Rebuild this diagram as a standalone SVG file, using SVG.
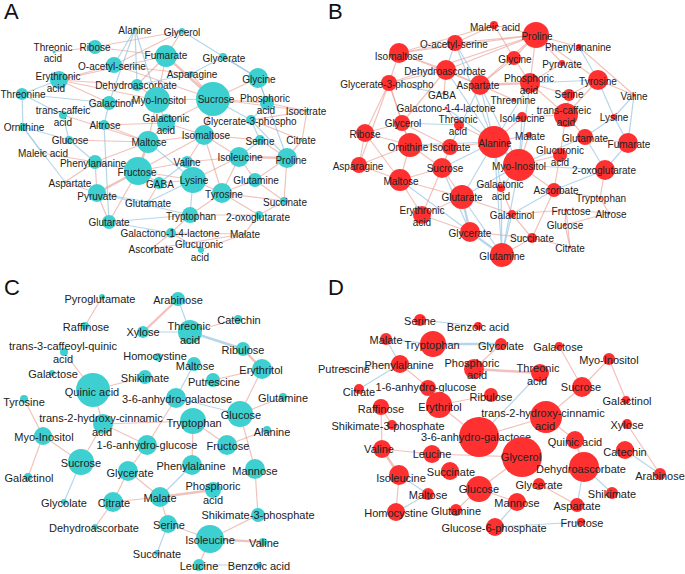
<svg xmlns="http://www.w3.org/2000/svg" width="685" height="574" viewBox="0 0 685 574">
<style>
text{font-family:"Liberation Sans",Arial,sans-serif;fill:#222;text-anchor:middle}
.t10{font-size:10px}
.t11{font-size:11px}
.pl{font-size:22px;text-anchor:start;fill:#111}
.r{stroke:#E8998F;stroke-opacity:.6;stroke-width:1.2;fill:none}
.b{stroke:#97C4E0;stroke-opacity:.7;stroke-width:1.2;fill:none}
.w2{stroke-width:2.4}
.nA{fill:#3ED0D0}
.nB{fill:#FF3030}
</style>
<rect width="685" height="574" fill="#fff"/>
<text class="pl" x="4" y="19">A</text>
<text class="pl" x="328" y="19">B</text>
<text class="pl" x="4" y="295">C</text>
<text class="pl" x="328" y="295">D</text>
<g id="connectors">
<!-- Panel A -->
<line class="r" x1="95" y1="47" x2="54" y2="52"/>
<line class="r" x1="95" y1="47" x2="166" y2="56"/>
<line class="r" x1="95" y1="47" x2="182" y2="31"/>
<line class="r" x1="114" y1="65" x2="182" y2="31"/>
<line class="r" x1="166" y1="56" x2="182" y2="31"/>
<line class="r w2" x1="166" y1="56" x2="213" y2="99"/>
<line class="r" x1="166" y1="56" x2="137" y2="85"/>
<line class="r" x1="166" y1="56" x2="59" y2="80"/>
<line class="r" x1="166" y1="56" x2="157" y2="100"/>
<line class="r" x1="59" y1="80" x2="114" y2="65"/>
<line class="r" x1="59" y1="80" x2="137" y2="85"/>
<line class="r" x1="59" y1="80" x2="109" y2="103"/>
<line class="r" x1="59" y1="80" x2="157" y2="100"/>
<line class="r" x1="114" y1="65" x2="191" y2="74"/>
<line class="r" x1="114" y1="65" x2="213" y2="99"/>
<line class="r" x1="258" y1="78" x2="213" y2="99"/>
<line class="b" x1="258" y1="78" x2="223" y2="57"/>
<line class="b" x1="258" y1="78" x2="182" y2="31"/>
<line class="b" x1="258" y1="78" x2="267" y2="103"/>
<line class="b" x1="258" y1="78" x2="287" y2="158"/>
<line class="r" x1="213" y1="99" x2="157" y2="100"/>
<line class="r w2" x1="213" y1="99" x2="204" y2="135"/>
<line class="r" x1="213" y1="99" x2="166" y2="123"/>
<line class="b" x1="213" y1="99" x2="251" y2="120"/>
<line class="r" x1="213" y1="99" x2="267" y2="103"/>
<line class="r" x1="213" y1="99" x2="307" y2="111"/>
<line class="r" x1="157" y1="100" x2="109" y2="103"/>
<line class="r" x1="157" y1="100" x2="148" y2="142"/>
<line class="r" x1="157" y1="100" x2="166" y2="123"/>
<line class="r" x1="157" y1="100" x2="137" y2="85"/>
<line class="b" x1="137" y1="85" x2="135" y2="29"/>
<line class="b" x1="135" y1="29" x2="157" y2="100"/>
<line class="b" x1="135" y1="29" x2="114" y2="65"/>
<line class="b" x1="135" y1="29" x2="109" y2="103"/>
<line class="b" x1="191" y1="74" x2="223" y2="57"/>
<line class="r" x1="191" y1="74" x2="213" y2="99"/>
<line class="b" x1="191" y1="74" x2="137" y2="85"/>
<line class="b" x1="22" y1="94" x2="59" y2="80"/>
<line class="b" x1="22" y1="94" x2="23" y2="127"/>
<line class="b" x1="22" y1="94" x2="63" y2="115"/>
<line class="b" x1="22" y1="94" x2="109" y2="103"/>
<line class="b" x1="63" y1="115" x2="109" y2="103"/>
<line class="b" x1="63" y1="115" x2="69" y2="140"/>
<line class="r" x1="63" y1="115" x2="148" y2="142"/>
<line class="b" x1="23" y1="127" x2="42" y2="153"/>
<line class="b" x1="23" y1="127" x2="65" y2="182"/>
<line class="b" x1="23" y1="127" x2="69" y2="140"/>
<line class="b" x1="104" y1="125" x2="109" y2="103"/>
<line class="r" x1="104" y1="125" x2="148" y2="142"/>
<line class="b" x1="104" y1="125" x2="109" y2="222"/>
<line class="r" x1="104" y1="125" x2="166" y2="123"/>
<line class="r" x1="69" y1="140" x2="148" y2="142"/>
<line class="b" x1="69" y1="140" x2="95" y2="162"/>
<line class="r w2" x1="148" y1="142" x2="138" y2="171"/>
<line class="r" x1="148" y1="142" x2="166" y2="123"/>
<line class="b" x1="148" y1="142" x2="193" y2="180"/>
<line class="r" x1="148" y1="142" x2="204" y2="135"/>
<line class="r" x1="148" y1="142" x2="95" y2="162"/>
<line class="r" x1="204" y1="135" x2="187" y2="162"/>
<line class="r" x1="204" y1="135" x2="138" y2="171"/>
<line class="r" x1="204" y1="135" x2="260" y2="140"/>
<line class="r" x1="204" y1="135" x2="222" y2="193"/>
<line class="r" x1="204" y1="135" x2="239" y2="157"/>
<line class="r" x1="204" y1="135" x2="166" y2="123"/>
<line class="b" x1="251" y1="120" x2="260" y2="140"/>
<line class="r" x1="251" y1="120" x2="307" y2="111"/>
<line class="b" x1="251" y1="120" x2="287" y2="158"/>
<line class="r" x1="251" y1="120" x2="302" y2="140"/>
<line class="r" x1="267" y1="103" x2="307" y2="111"/>
<line class="b" x1="267" y1="103" x2="251" y2="120"/>
<line class="r" x1="260" y1="140" x2="287" y2="158"/>
<line class="b" x1="260" y1="140" x2="239" y2="157"/>
<line class="r w2" x1="287" y1="158" x2="239" y2="157"/>
<line class="r" x1="287" y1="158" x2="302" y2="140"/>
<line class="r" x1="287" y1="158" x2="284" y2="201"/>
<line class="r" x1="287" y1="158" x2="255" y2="180"/>
<line class="r" x1="307" y1="111" x2="302" y2="140"/>
<line class="r" x1="239" y1="157" x2="255" y2="180"/>
<line class="r" x1="239" y1="157" x2="193" y2="180"/>
<line class="r" x1="239" y1="157" x2="187" y2="162"/>
<line class="r" x1="239" y1="157" x2="222" y2="193"/>
<line class="r" x1="95" y1="162" x2="138" y2="171"/>
<line class="r" x1="95" y1="162" x2="65" y2="182"/>
<line class="r" x1="95" y1="162" x2="97" y2="193"/>
<line class="r" x1="95" y1="162" x2="42" y2="153"/>
<line class="r w2" x1="138" y1="171" x2="97" y2="193"/>
<line class="r" x1="138" y1="171" x2="159" y2="183"/>
<line class="r" x1="138" y1="171" x2="193" y2="180"/>
<line class="r" x1="138" y1="171" x2="109" y2="222"/>
<line class="r" x1="138" y1="171" x2="187" y2="162"/>
<line class="r" x1="193" y1="180" x2="222" y2="193"/>
<line class="b" x1="193" y1="180" x2="190" y2="215"/>
<line class="r" x1="193" y1="180" x2="159" y2="183"/>
<line class="r" x1="193" y1="180" x2="187" y2="162"/>
<line class="b" x1="193" y1="180" x2="148" y2="202"/>
<line class="r" x1="222" y1="193" x2="255" y2="180"/>
<line class="r" x1="222" y1="193" x2="284" y2="201"/>
<line class="r" x1="222" y1="193" x2="259" y2="215"/>
<line class="r" x1="222" y1="193" x2="190" y2="215"/>
<line class="r" x1="97" y1="193" x2="109" y2="222"/>
<line class="r" x1="97" y1="193" x2="65" y2="182"/>
<line class="b" x1="97" y1="193" x2="148" y2="202"/>
<line class="b" x1="97" y1="193" x2="190" y2="215"/>
<line class="b" x1="109" y1="222" x2="190" y2="215"/>
<line class="b" x1="109" y1="222" x2="171" y2="233"/>
<line class="r" x1="190" y1="215" x2="171" y2="233"/>
<line class="r" x1="190" y1="215" x2="259" y2="215"/>
<line class="r" x1="171" y1="233" x2="244" y2="234"/>
<line class="r" x1="171" y1="233" x2="151" y2="249"/>
<line class="r" x1="171" y1="233" x2="201" y2="250"/>
<line class="r" x1="244" y1="234" x2="259" y2="215"/>
<line class="r" x1="244" y1="234" x2="151" y2="249"/>
<line class="r" x1="244" y1="234" x2="201" y2="250"/>
<line class="r" x1="259" y1="215" x2="284" y2="201"/>
<line class="r" x1="255" y1="180" x2="284" y2="201"/>
<line class="r" x1="159" y1="183" x2="148" y2="202"/>
<line class="b" x1="187" y1="162" x2="159" y2="183"/>
<!-- Panel B -->
<line class="r" x1="536" y1="35" x2="494" y2="25"/>
<line class="r" x1="536" y1="35" x2="455" y2="43"/>
<line class="r" x1="536" y1="35" x2="399" y2="53"/>
<line class="r" x1="536" y1="35" x2="446" y2="70"/>
<line class="r" x1="536" y1="35" x2="514" y2="58"/>
<line class="r" x1="536" y1="35" x2="530" y2="83"/>
<line class="r" x1="536" y1="35" x2="598" y2="80"/>
<line class="r" x1="536" y1="35" x2="562" y2="63"/>
<line class="r" x1="536" y1="35" x2="480" y2="85"/>
<line class="r" x1="536" y1="35" x2="389" y2="83"/>
<line class="r" x1="536" y1="35" x2="579" y2="47"/>
<line class="r" x1="494" y1="25" x2="455" y2="43"/>
<line class="r" x1="494" y1="25" x2="399" y2="53"/>
<line class="r" x1="494" y1="25" x2="514" y2="58"/>
<line class="r" x1="455" y1="43" x2="399" y2="53"/>
<line class="r" x1="399" y1="53" x2="446" y2="70"/>
<line class="r" x1="399" y1="53" x2="389" y2="83"/>
<line class="r" x1="399" y1="53" x2="480" y2="85"/>
<line class="r" x1="446" y1="70" x2="480" y2="85"/>
<line class="r" x1="446" y1="70" x2="389" y2="83"/>
<line class="r" x1="514" y1="58" x2="480" y2="85"/>
<line class="r" x1="514" y1="58" x2="530" y2="83"/>
<line class="r w2" x1="480" y1="85" x2="530" y2="83"/>
<line class="r" x1="530" y1="83" x2="569" y2="95"/>
<line class="b" x1="530" y1="83" x2="598" y2="80"/>
<line class="b" x1="579" y1="47" x2="598" y2="80"/>
<line class="r" x1="579" y1="47" x2="634" y2="95"/>
<line class="r" x1="598" y1="80" x2="569" y2="95"/>
<line class="r" x1="598" y1="80" x2="634" y2="95"/>
<line class="b" x1="598" y1="80" x2="614" y2="117"/>
<line class="r" x1="598" y1="80" x2="566" y2="115"/>
<line class="r" x1="562" y1="63" x2="530" y2="83"/>
<line class="r" x1="389" y1="83" x2="365" y2="133"/>
<line class="r" x1="389" y1="83" x2="402" y2="123"/>
<line class="r" x1="389" y1="83" x2="410" y2="145"/>
<line class="r" x1="389" y1="83" x2="359" y2="165"/>
<line class="b" x1="389" y1="83" x2="444" y2="94"/>
<line class="b" x1="455" y1="43" x2="446" y2="70"/>
<line class="b" x1="455" y1="43" x2="480" y2="85"/>
<line class="b" x1="455" y1="43" x2="494" y2="142"/>
<line class="b" x1="446" y1="70" x2="494" y2="142"/>
<line class="r" x1="446" y1="70" x2="402" y2="123"/>
<line class="r" x1="446" y1="70" x2="444" y2="94"/>
<line class="b" x1="480" y1="85" x2="494" y2="142"/>
<line class="b" x1="480" y1="85" x2="450" y2="147"/>
<line class="r" x1="480" y1="85" x2="514" y2="100"/>
<line class="b" x1="480" y1="85" x2="519" y2="165"/>
<line class="b" x1="530" y1="83" x2="519" y2="165"/>
<line class="r" x1="530" y1="83" x2="566" y2="115"/>
<line class="b" x1="530" y1="83" x2="494" y2="142"/>
<line class="r" x1="569" y1="95" x2="566" y2="115"/>
<line class="b" x1="634" y1="95" x2="628" y2="143"/>
<line class="b" x1="634" y1="95" x2="614" y2="117"/>
<line class="b" x1="614" y1="117" x2="628" y2="143"/>
<line class="b" x1="614" y1="117" x2="585" y2="137"/>
<line class="r" x1="365" y1="133" x2="402" y2="123"/>
<line class="r" x1="365" y1="133" x2="359" y2="165"/>
<line class="r" x1="365" y1="133" x2="410" y2="145"/>
<line class="r" x1="365" y1="133" x2="400" y2="180"/>
<line class="r" x1="402" y1="123" x2="410" y2="145"/>
<line class="r" x1="402" y1="123" x2="450" y2="147"/>
<line class="b" x1="402" y1="123" x2="459" y2="125"/>
<line class="r" x1="446" y1="108" x2="459" y2="125"/>
<line class="b" x1="446" y1="108" x2="494" y2="142"/>
<line class="r" x1="410" y1="145" x2="450" y2="147"/>
<line class="r" x1="410" y1="145" x2="400" y2="180"/>
<line class="r" x1="410" y1="145" x2="442" y2="168"/>
<line class="b" x1="410" y1="145" x2="494" y2="142"/>
<line class="r" x1="410" y1="145" x2="359" y2="165"/>
<line class="r" x1="450" y1="147" x2="494" y2="142"/>
<line class="r" x1="450" y1="147" x2="442" y2="168"/>
<line class="r" x1="459" y1="125" x2="494" y2="142"/>
<line class="b w2" x1="494" y1="142" x2="519" y2="165"/>
<line class="r" x1="494" y1="142" x2="522" y2="117"/>
<line class="r" x1="494" y1="142" x2="529" y2="135"/>
<line class="b" x1="494" y1="142" x2="462" y2="197"/>
<line class="b" x1="494" y1="142" x2="442" y2="168"/>
<line class="b" x1="494" y1="142" x2="501" y2="188"/>
<line class="b" x1="494" y1="142" x2="502" y2="255"/>
<line class="r" x1="522" y1="117" x2="566" y2="115"/>
<line class="b" x1="522" y1="117" x2="519" y2="165"/>
<line class="r" x1="529" y1="135" x2="519" y2="165"/>
<line class="b" x1="519" y1="165" x2="585" y2="137"/>
<line class="r" x1="519" y1="165" x2="560" y2="155"/>
<line class="b" x1="519" y1="165" x2="501" y2="188"/>
<line class="b" x1="519" y1="165" x2="502" y2="255"/>
<line class="r" x1="519" y1="165" x2="554" y2="190"/>
<line class="b" x1="519" y1="165" x2="462" y2="197"/>
<line class="b" x1="519" y1="165" x2="605" y2="170"/>
<line class="r" x1="566" y1="115" x2="585" y2="137"/>
<line class="r" x1="566" y1="115" x2="560" y2="155"/>
<line class="r" x1="585" y1="137" x2="628" y2="143"/>
<line class="b" x1="585" y1="137" x2="605" y2="170"/>
<line class="b" x1="628" y1="143" x2="605" y2="170"/>
<line class="r" x1="605" y1="170" x2="600" y2="198"/>
<line class="r" x1="554" y1="190" x2="600" y2="198"/>
<line class="b" x1="554" y1="190" x2="605" y2="170"/>
<line class="r" x1="560" y1="155" x2="554" y2="190"/>
<line class="r" x1="400" y1="180" x2="359" y2="165"/>
<line class="r" x1="400" y1="180" x2="462" y2="197"/>
<line class="r" x1="400" y1="180" x2="422" y2="215"/>
<line class="b" x1="400" y1="180" x2="470" y2="232"/>
<line class="r" x1="400" y1="180" x2="442" y2="168"/>
<line class="r" x1="442" y1="168" x2="462" y2="197"/>
<line class="b" x1="442" y1="168" x2="470" y2="232"/>
<line class="r" x1="442" y1="168" x2="422" y2="215"/>
<line class="b w2" x1="462" y1="197" x2="470" y2="232"/>
<line class="b" x1="462" y1="197" x2="502" y2="255"/>
<line class="r" x1="462" y1="197" x2="422" y2="215"/>
<line class="r" x1="462" y1="197" x2="512" y2="214"/>
<line class="r" x1="422" y1="215" x2="470" y2="232"/>
<line class="b w2" x1="470" y1="232" x2="502" y2="255"/>
<line class="r" x1="470" y1="232" x2="532" y2="238"/>
<line class="r" x1="502" y1="255" x2="532" y2="238"/>
<line class="b" x1="502" y1="255" x2="512" y2="214"/>
<line class="b" x1="502" y1="255" x2="501" y2="188"/>
<line class="r" x1="512" y1="214" x2="532" y2="238"/>
<line class="r" x1="512" y1="214" x2="566" y2="210"/>
<line class="b" x1="512" y1="214" x2="554" y2="190"/>
<line class="r" x1="501" y1="188" x2="512" y2="214"/>
<line class="r" x1="566" y1="210" x2="609" y2="213"/>
<line class="r" x1="565" y1="225" x2="609" y2="213"/>
<line class="r" x1="570" y1="247" x2="565" y2="225"/>
<line class="r" x1="570" y1="247" x2="532" y2="238"/>
<line class="r" x1="570" y1="247" x2="566" y2="210"/>
<line class="r" x1="532" y1="238" x2="554" y2="190"/>
<line class="r" x1="565" y1="225" x2="566" y2="210"/>
<line class="r" x1="600" y1="198" x2="609" y2="213"/>
<!-- Panel C -->
<line class="r" x1="102" y1="297" x2="85" y2="326"/>
<line class="r w2" x1="178" y1="299" x2="143" y2="332"/>
<line class="b" x1="178" y1="299" x2="190" y2="332"/>
<line class="b" x1="143" y1="332" x2="190" y2="332"/>
<line class="r" x1="190" y1="332" x2="238" y2="319"/>
<line class="b w2" x1="190" y1="332" x2="243" y2="349"/>
<line class="r w2" x1="243" y1="349" x2="262" y2="369"/>
<line class="r" x1="262" y1="369" x2="213" y2="380"/>
<line class="r" x1="262" y1="369" x2="240" y2="414"/>
<line class="b" x1="194" y1="364" x2="176" y2="398"/>
<line class="r" x1="64" y1="352" x2="93" y2="390"/>
<line class="r" x1="93" y1="390" x2="145" y2="377"/>
<line class="r" x1="93" y1="390" x2="103" y2="424"/>
<line class="r" x1="24" y1="399" x2="43" y2="436"/>
<line class="r" x1="43" y1="436" x2="81" y2="462"/>
<line class="r" x1="43" y1="436" x2="28" y2="477"/>
<line class="r" x1="103" y1="424" x2="81" y2="462"/>
<line class="r" x1="103" y1="424" x2="193" y2="421"/>
<line class="r" x1="103" y1="424" x2="147" y2="445"/>
<line class="b" x1="81" y1="462" x2="64" y2="502"/>
<line class="b" x1="176" y1="398" x2="240" y2="414"/>
<line class="r" x1="176" y1="398" x2="147" y2="445"/>
<line class="r" x1="240" y1="414" x2="283" y2="397"/>
<line class="r" x1="240" y1="414" x2="255" y2="469"/>
<line class="r" x1="193" y1="421" x2="227" y2="445"/>
<line class="r" x1="193" y1="421" x2="192" y2="465"/>
<line class="r" x1="227" y1="445" x2="267" y2="430"/>
<line class="b" x1="192" y1="465" x2="160" y2="497"/>
<line class="r" x1="128" y1="471" x2="113" y2="502"/>
<line class="r" x1="128" y1="471" x2="160" y2="497"/>
<line class="r" x1="128" y1="471" x2="147" y2="445"/>
<line class="r" x1="113" y1="502" x2="160" y2="497"/>
<line class="r w2" x1="160" y1="497" x2="213" y2="490"/>
<line class="r" x1="160" y1="497" x2="168" y2="524"/>
<line class="r" x1="255" y1="469" x2="258" y2="515"/>
<line class="r" x1="258" y1="515" x2="210" y2="539"/>
<line class="r" x1="168" y1="524" x2="210" y2="539"/>
<line class="b" x1="168" y1="524" x2="157" y2="553"/>
<line class="r w2" x1="210" y1="539" x2="263" y2="542"/>
<line class="r" x1="210" y1="539" x2="199" y2="565"/>
<line class="b" x1="199" y1="565" x2="259" y2="565"/>
<line class="r" x1="113" y1="502" x2="95" y2="527"/>
<!-- Panel D -->
<line class="b" x1="420" y1="320" x2="478" y2="326"/>
<line class="b" x1="386" y1="339" x2="433" y2="344"/>
<line class="b w2" x1="433" y1="344" x2="501" y2="344"/>
<line class="b" x1="386" y1="339" x2="400" y2="364"/>
<line class="r" x1="501" y1="344" x2="474" y2="369"/>
<line class="r w2" x1="474" y1="369" x2="540" y2="373"/>
<line class="r" x1="559" y1="346" x2="582" y2="387"/>
<line class="r" x1="609" y1="359" x2="582" y2="387"/>
<line class="r" x1="609" y1="359" x2="626" y2="400"/>
<line class="r" x1="627" y1="424" x2="660" y2="474"/>
<line class="b" x1="625" y1="450" x2="660" y2="474"/>
<line class="r" x1="400" y1="364" x2="428" y2="387"/>
<line class="b" x1="400" y1="364" x2="344" y2="369"/>
<line class="b" x1="359" y1="389" x2="400" y2="364"/>
<line class="b" x1="540" y1="373" x2="479" y2="437"/>
<line class="r" x1="582" y1="387" x2="546" y2="417"/>
<line class="r" x1="546" y1="417" x2="575" y2="440"/>
<line class="r" x1="546" y1="417" x2="479" y2="437"/>
<line class="r" x1="491" y1="395" x2="439" y2="405"/>
<line class="r" x1="439" y1="405" x2="479" y2="437"/>
<line class="r" x1="381" y1="407" x2="392" y2="425"/>
<line class="r" x1="381" y1="407" x2="382" y2="449"/>
<line class="r" x1="382" y1="449" x2="432" y2="454"/>
<line class="r" x1="432" y1="454" x2="522" y2="457"/>
<line class="r w2" x1="382" y1="449" x2="399" y2="475"/>
<line class="r" x1="522" y1="457" x2="479" y2="489"/>
<line class="r" x1="575" y1="440" x2="584" y2="467"/>
<line class="b" x1="584" y1="467" x2="577" y2="505"/>
<line class="b" x1="584" y1="467" x2="612" y2="493"/>
<line class="r" x1="539" y1="484" x2="577" y2="505"/>
<line class="r" x1="479" y1="489" x2="517" y2="502"/>
<line class="r" x1="479" y1="489" x2="456" y2="510"/>
<line class="b" x1="517" y1="502" x2="495" y2="527"/>
<line class="b" x1="495" y1="527" x2="581" y2="522"/>
<line class="b" x1="428" y1="494" x2="396" y2="512"/>
<line class="b" x1="428" y1="494" x2="399" y2="475"/>
<line class="r" x1="399" y1="475" x2="396" y2="512"/>
</g>
<g id="nodes-A">
<g id="a-alanine"><circle class="nA" cx="135" cy="29" r="2"/><text class="t10" x="135" y="33.5">Alanine</text></g>
<g id="a-glycerol"><circle class="nA" cx="182" cy="31" r="3"/><text class="t10" x="182" y="35.5">Glycerol</text></g>
<g id="a-threonic"><circle class="nA" cx="54" cy="52" r="1.5"/><text class="t10" x="53" y="50.5">Threonic</text><text class="t10" x="53" y="61.5">acid</text></g>
<g id="a-ribose"><circle class="nA" cx="95" cy="47" r="7"/><text class="t10" x="95" y="50.5">Ribose</text></g>
<g id="a-fumarate"><circle class="nA" cx="166" cy="56" r="11"/><text class="t10" x="166" y="58.5">Fumarate</text></g>
<g id="a-glycerate"><circle class="nA" cx="223" cy="57" r="4"/><text class="t10" x="224" y="61.5">Glycerate</text></g>
<g id="a-oacetyl"><circle class="nA" cx="114" cy="65" r="8"/><text class="t10" x="112" y="69.5">O-acetyl-serine</text></g>
<g id="a-asparagine"><circle class="nA" cx="191" cy="74" r="3"/><text class="t10" x="192" y="77.5">Asparagine</text></g>
<g id="a-erythronic"><circle class="nA" cx="59" cy="80" r="9"/><text class="t10" x="58" y="79.5">Erythronic</text><text class="t10" x="56" y="91.5">acid</text></g>
<g id="a-glycine"><circle class="nA" cx="258" cy="78" r="10"/><text class="t10" x="259" y="82.5">Glycine</text></g>
<g id="a-dehydro"><circle class="nA" cx="137" cy="85" r="6"/><text class="t10" x="136" y="88.5">Dehydroascorbate</text></g>
<g id="a-threonine"><circle class="nA" cx="22" cy="94" r="6"/><text class="t10" x="23" y="97.5">Threonine</text></g>
<g id="a-sucrose"><circle class="nA" cx="213" cy="99" r="17"/><text class="t10" x="216" y="102.5">Sucrose</text></g>
<g id="a-phosph"><circle class="nA" cx="267" cy="103" r="7"/><text class="t10" x="265" y="101.5">Phosphoric</text><text class="t10" x="266" y="113.5">acid</text></g>
<g id="a-myo"><circle class="nA" cx="157" cy="100" r="13"/><text class="t10" x="159" y="103.5">Myo-Inositol</text></g>
<g id="a-galactinol"><circle class="nA" cx="109" cy="103" r="7"/><text class="t10" x="111" y="106.5">Galactinol</text></g>
<g id="a-caffeic"><circle class="nA" cx="63" cy="115" r="4"/><text class="t10" x="63" y="113.5">trans-caffeic</text><text class="t10" x="63" y="125.5">acid</text></g>
<g id="a-isocitrate"><circle class="nA" cx="307" cy="111" r="1.5"/><text class="t10" x="306" y="114.5">Isocitrate</text></g>
<g id="a-galactonic"><circle class="nA" cx="166" cy="123" r="9"/><text class="t10" x="166" y="121.5">Galactonic</text><text class="t10" x="166" y="133.5">acid</text></g>
<g id="a-g3p"><circle class="nA" cx="251" cy="120" r="5"/><text class="t10" x="250" y="124.5">Glycerate-3-phospho</text></g>
<g id="a-ornithine"><circle class="nA" cx="23" cy="127" r="4"/><text class="t10" x="24" y="130.5">Ornithine</text></g>
<g id="a-altrose"><circle class="nA" cx="104" cy="125" r="5"/><text class="t10" x="105" y="128.5">Altrose</text></g>
<g id="a-isomaltose"><circle class="nA" cx="204" cy="135" r="10"/><text class="t10" x="206" y="138.5">Isomaltose</text></g>
<g id="a-glucose"><circle class="nA" cx="69" cy="140" r="4"/><text class="t10" x="70" y="143.5">Glucose</text></g>
<g id="a-maltose"><circle class="nA" cx="148" cy="142" r="11"/><text class="t10" x="149" y="145.5">Maltose</text></g>
<g id="a-serine"><circle class="nA" cx="260" cy="140" r="5"/><text class="t10" x="260" y="144.5">Serine</text></g>
<g id="a-citrate"><circle class="nA" cx="302" cy="140" r="1.5"/><text class="t10" x="301" y="143.5">Citrate</text></g>
<g id="a-maleic"><circle class="nA" cx="42" cy="153" r="1.5"/><text class="t10" x="43" y="156.5">Maleic acid</text></g>
<g id="a-phenyl"><circle class="nA" cx="95" cy="162" r="7"/><text class="t10" x="93" y="166.5">Phenylananine</text></g>
<g id="a-valine"><circle class="nA" cx="187" cy="162" r="6"/><text class="t10" x="187" y="165.5">Valine</text></g>
<g id="a-isoleucine"><circle class="nA" cx="239" cy="157" r="10"/><text class="t10" x="240" y="160.5">Isoleucine</text></g>
<g id="a-proline"><circle class="nA" cx="287" cy="158" r="10"/><text class="t10" x="291" y="163.5">Proline</text></g>
<g id="a-fructose"><circle class="nA" cx="138" cy="171" r="14"/><text class="t10" x="137" y="175.5">Fructose</text></g>
<g id="a-aspartate"><circle class="nA" cx="65" cy="182" r="1.5"/><text class="t10" x="70" y="186.5">Aspartate</text></g>
<g id="a-gaba"><circle class="nA" cx="159" cy="183" r="6"/><text class="t10" x="160" y="187.5">GABA</text></g>
<g id="a-lysine"><circle class="nA" cx="193" cy="180" r="13"/><text class="t10" x="194" y="183.5">Lysine</text></g>
<g id="a-glutamine"><circle class="nA" cx="255" cy="180" r="7"/><text class="t10" x="256" y="183.5">Glutamine</text></g>
<g id="a-pyruvate"><circle class="nA" cx="97" cy="193" r="9"/><text class="t10" x="97" y="199.5">Pyruvate</text></g>
<g id="a-tyrosine"><circle class="nA" cx="222" cy="193" r="10"/><text class="t10" x="224" y="197.5">Tyrosine</text></g>
<g id="a-glutamate"><circle class="nA" cx="148" cy="202" r="1.5"/><text class="t10" x="148" y="206.5">Glutamate</text></g>
<g id="a-succinate"><circle class="nA" cx="284" cy="201" r="4"/><text class="t10" x="285" y="205.5">Succinate</text></g>
<g id="a-tryptophan"><circle class="nA" cx="190" cy="215" r="8"/><text class="t10" x="191" y="219.5">Tryptophan</text></g>
<g id="a-oxoglut"><circle class="nA" cx="259" cy="215" r="4"/><text class="t10" x="258" y="220.5">2-oxoglutarate</text></g>
<g id="a-glutarate"><circle class="nA" cx="109" cy="222" r="7"/><text class="t10" x="109" y="225.5">Glutarate</text></g>
<g id="a-galactono"><circle class="nA" cx="171" cy="233" r="5"/><text class="t10" x="170" y="236.5">Galactono-1-4-lactone</text></g>
<g id="a-malate"><circle class="nA" cx="244" cy="234" r="1.5"/><text class="t10" x="245" y="237.5">Malate</text></g>
<g id="a-ascorbate"><circle class="nA" cx="151" cy="249" r="1.5"/><text class="t10" x="151" y="252.5">Ascorbate</text></g>
<g id="a-glucuronic"><circle class="nA" cx="201" cy="250" r="3"/><text class="t10" x="199" y="247.5">Glucuronic</text><text class="t10" x="200" y="260.5">acid</text></g>
</g>
<g id="nodes-B">
<g id="b-maleic"><circle class="nB" cx="494" cy="25" r="4"/><text class="t10" x="495" y="30.5">Maleic acid</text></g>
<g id="b-proline"><circle class="nB" cx="536" cy="35" r="13"/><text class="t10" x="537" y="39.5">Proline</text></g>
<g id="b-oacetyl"><circle class="nB" cx="455" cy="43" r="8"/><text class="t10" x="454" y="47.5">O-acetyl-serine</text></g>
<g id="b-phenyl"><circle class="nB" cx="579" cy="47" r="3"/><text class="t10" x="578" y="50.5">Phenylananine</text></g>
<g id="b-isomaltose"><circle class="nB" cx="399" cy="53" r="10"/><text class="t10" x="399" y="59.5">Isomaltose</text></g>
<g id="b-glycine"><circle class="nB" cx="514" cy="58" r="7"/><text class="t10" x="515" y="62.5">Glycine</text></g>
<g id="b-pyruvate"><circle class="nB" cx="562" cy="63" r="3"/><text class="t10" x="562" y="67.5">Pyruvate</text></g>
<g id="b-dehydro"><circle class="nB" cx="446" cy="70" r="10"/><text class="t10" x="445" y="74.5">Dehydroascorbate</text></g>
<g id="b-g3p"><circle class="nB" cx="389" cy="83" r="8"/><text class="t10" x="387" y="87.5">Glycerate-3-phospho</text></g>
<g id="b-aspartate"><circle class="nB" cx="480" cy="85" r="10"/><text class="t10" x="478" y="88.5">Aspartate</text></g>
<g id="b-phosph"><circle class="nB" cx="530" cy="83" r="10"/><text class="t10" x="529" y="81.5">Phosphoric</text><text class="t10" x="529" y="93.5">acid</text></g>
<g id="b-tyrosine"><circle class="nB" cx="598" cy="80" r="10"/><text class="t10" x="598" y="84.5">Tyrosine</text></g>
<g id="b-gaba"><circle class="nB" cx="444" cy="93" r="1.5"/><text class="t10" x="442" y="98.5">GABA</text></g>
<g id="b-serine"><circle class="nB" cx="569" cy="95" r="6"/><text class="t10" x="569" y="97.5">Serine</text></g>
<g id="b-valine"><circle class="nB" cx="634" cy="95" r="1.5"/><text class="t10" x="634" y="99.5">Valine</text></g>
<g id="b-threonine"><circle class="nB" cx="514" cy="100" r="2"/><text class="t10" x="513" y="103.5">Threonine</text></g>
<g id="b-galactono"><circle class="nB" cx="446" cy="108" r="1.5"/><text class="t10" x="446" y="111.5">Galactono-1-4-lactone</text></g>
<g id="b-threonic"><circle class="nB" cx="459" cy="125" r="5"/><text class="t10" x="458" y="122.5">Threonic</text><text class="t10" x="458" y="134.5">acid</text></g>
<g id="b-isoleucine"><circle class="nB" cx="522" cy="117" r="5"/><text class="t10" x="522" y="121.5">Isoleucine</text></g>
<g id="b-caffeic"><circle class="nB" cx="566" cy="115" r="12"/><text class="t10" x="564" y="113.5">trans-caffeic</text><text class="t10" x="566" y="125.5">acid</text></g>
<g id="b-lysine"><circle class="nB" cx="614" cy="117" r="3"/><text class="t10" x="614" y="120.5">Lysine</text></g>
<g id="b-glycerol"><circle class="nB" cx="402" cy="123" r="8"/><text class="t10" x="403" y="126.5">Glycerol</text></g>
<g id="b-ribose"><circle class="nB" cx="365" cy="133" r="9"/><text class="t10" x="365" y="137.5">Ribose</text></g>
<g id="b-malate"><circle class="nB" cx="529" cy="135" r="3"/><text class="t10" x="530" y="139.5">Malate</text></g>
<g id="b-alanine"><circle class="nB" cx="494" cy="142" r="16"/><text class="t10" x="495" y="146.5">Alanine</text></g>
<g id="b-glutamate"><circle class="nB" cx="585" cy="137" r="8"/><text class="t10" x="585" y="141.5">Glutamate</text></g>
<g id="b-fumarate"><circle class="nB" cx="628" cy="143" r="10"/><text class="t10" x="629" y="147.5">Fumarate</text></g>
<g id="b-ornithine"><circle class="nB" cx="410" cy="145" r="12"/><text class="t10" x="408" y="150.5">Ornithine</text></g>
<g id="b-isocitrate"><circle class="nB" cx="450" cy="147" r="8"/><text class="t10" x="450" y="150.5">Isocitrate</text></g>
<g id="b-glucuronic"><circle class="nB" cx="560" cy="155" r="7"/><text class="t10" x="560" y="153.5">Glucuronic</text><text class="t10" x="560" y="165.5">acid</text></g>
<g id="b-asparagine"><circle class="nB" cx="359" cy="165" r="8"/><text class="t10" x="358" y="169.5">Asparagine</text></g>
<g id="b-sucrose"><circle class="nB" cx="442" cy="168" r="10"/><text class="t10" x="445" y="171.5">Sucrose</text></g>
<g id="b-myo"><circle class="nB" cx="519" cy="165" r="16"/><text class="t10" x="519" y="169.5">Myo-Inositol</text></g>
<g id="b-oxoglut"><circle class="nB" cx="605" cy="170" r="10"/><text class="t10" x="604" y="173.5">2-oxoglutarate</text></g>
<g id="b-maltose"><circle class="nB" cx="400" cy="180" r="11"/><text class="t10" x="401" y="184.5">Maltose</text></g>
<g id="b-galactonic"><circle class="nB" cx="501" cy="188" r="4"/><text class="t10" x="500" y="187.5">Galactonic</text><text class="t10" x="501" y="199.5">acid</text></g>
<g id="b-ascorbate"><circle class="nB" cx="554" cy="190" r="7"/><text class="t10" x="556" y="193.5">Ascorbate</text></g>
<g id="b-glutarate"><circle class="nB" cx="462" cy="197" r="12"/><text class="t10" x="462" y="200.5">Glutarate</text></g>
<g id="b-tryptophan"><circle class="nB" cx="600" cy="198" r="1.5"/><text class="t10" x="601" y="201.5">Tryptophan</text></g>
<g id="b-erythronic"><circle class="nB" cx="422" cy="215" r="9"/><text class="t10" x="422" y="213.5">Erythronic</text><text class="t10" x="422" y="225.5">acid</text></g>
<g id="b-galactinol"><circle class="nB" cx="512" cy="214" r="4"/><text class="t10" x="512" y="218.5">Galactinol</text></g>
<g id="b-fructose"><circle class="nB" cx="566" cy="210" r="1.5"/><text class="t10" x="571" y="214.5">Fructose</text></g>
<g id="b-altrose"><circle class="nB" cx="609" cy="213" r="1.5"/><text class="t10" x="611" y="217.5">Altrose</text></g>
<g id="b-glucose"><circle class="nB" cx="565" cy="225" r="1.5"/><text class="t10" x="565" y="228.5">Glucose</text></g>
<g id="b-glycerate"><circle class="nB" cx="470" cy="232" r="10"/><text class="t10" x="470" y="236.5">Glycerate</text></g>
<g id="b-succinate"><circle class="nB" cx="532" cy="238" r="5"/><text class="t10" x="532" y="241.5">Succinate</text></g>
<g id="b-citrate"><circle class="nB" cx="570" cy="247" r="1.5"/><text class="t10" x="570" y="251.5">Citrate</text></g>
<g id="b-glutamine"><circle class="nB" cx="502" cy="255" r="12"/><text class="t10" x="502" y="259.5">Glutamine</text></g>
</g>
<g id="nodes-C">
<g id="c-pyro"><circle class="nA" cx="102" cy="297" r="3"/><text class="t11" x="100" y="303">Pyroglutamate</text></g>
<g id="c-arabinose"><circle class="nA" cx="178" cy="299" r="7"/><text class="t11" x="178" y="304">Arabinose</text></g>
<g id="c-raffinose"><circle class="nA" cx="85" cy="326" r="4"/><text class="t11" x="86" y="331">Raffinose</text></g>
<g id="c-catechin"><circle class="nA" cx="238" cy="319" r="4"/><text class="t11" x="239" y="324">Catechin</text></g>
<g id="c-xylose"><circle class="nA" cx="143" cy="332" r="6"/><text class="t11" x="143" y="336">Xylose</text></g>
<g id="c-threonic"><circle class="nA" cx="190" cy="332" r="12"/><text class="t11" x="189" y="330">Threonic</text><text class="t11" x="190" y="344">acid</text></g>
<g id="c-tcq"><circle class="nA" cx="64" cy="352" r="4"/><text class="t11" x="63" y="350">trans-3-caffeoyl-quinic</text><text class="t11" x="63" y="363">acid</text></g>
<g id="c-ribulose"><circle class="nA" cx="243" cy="349" r="7"/><text class="t11" x="243" y="354">Ribulose</text></g>
<g id="c-homocystine"><circle class="nA" cx="158" cy="357" r="4"/><text class="t11" x="155" y="360">Homocystine</text></g>
<g id="c-maltose"><circle class="nA" cx="194" cy="364" r="7"/><text class="t11" x="195" y="370">Maltose</text></g>
<g id="c-galactose"><circle class="nA" cx="52" cy="373" r="3"/><text class="t11" x="53" y="378">Galactose</text></g>
<g id="c-erythritol"><circle class="nA" cx="262" cy="369" r="10"/><text class="t11" x="261" y="374">Erythritol</text></g>
<g id="c-shikimate"><circle class="nA" cx="145" cy="377" r="7"/><text class="t11" x="145" y="382">Shikimate</text></g>
<g id="c-putrescine"><circle class="nA" cx="213" cy="380" r="7"/><text class="t11" x="214" y="386">Putrescine</text></g>
<g id="c-quinic"><circle class="nA" cx="93" cy="390" r="17"/><text class="t11" x="92" y="396">Quinic acid</text></g>
<g id="c-36ag"><circle class="nA" cx="176" cy="398" r="10"/><text class="t11" x="177" y="403">3-6-anhydro-galactose</text></g>
<g id="c-glutamine"><circle class="nA" cx="283" cy="397" r="4"/><text class="t11" x="283" y="402">Glutamine</text></g>
<g id="c-tyrosine"><circle class="nA" cx="24" cy="399" r="4"/><text class="t11" x="24" y="406">Tyrosine</text></g>
<g id="c-glucose"><circle class="nA" cx="240" cy="414" r="13"/><text class="t11" x="241" y="419">Glucose</text></g>
<g id="c-t2h"><circle class="nA" cx="103" cy="424" r="10"/><text class="t11" x="101" y="422">trans-2-hydroxy-cinnamic</text><text class="t11" x="102" y="436">acid</text></g>
<g id="c-tryptophan"><circle class="nA" cx="193" cy="421" r="13"/><text class="t11" x="194" y="427">Tryptophan</text></g>
<g id="c-alanine"><circle class="nA" cx="267" cy="430" r="4"/><text class="t11" x="272" y="436">Alanine</text></g>
<g id="c-myo"><circle class="nA" cx="43" cy="436" r="9"/><text class="t11" x="44" y="441">Myo-Inositol</text></g>
<g id="c-16ag"><circle class="nA" cx="147" cy="445" r="10"/><text class="t11" x="147" y="449">1-6-anhydro-glucose</text></g>
<g id="c-fructose"><circle class="nA" cx="227" cy="445" r="10"/><text class="t11" x="228" y="450">Fructose</text></g>
<g id="c-sucrose"><circle class="nA" cx="81" cy="462" r="13"/><text class="t11" x="81" y="467">Sucrose</text></g>
<g id="c-phenyl"><circle class="nA" cx="192" cy="465" r="10"/><text class="t11" x="191" y="470">Phenylalanine</text></g>
<g id="c-mannose"><circle class="nA" cx="255" cy="469" r="10"/><text class="t11" x="255" y="475">Mannose</text></g>
<g id="c-glycerate"><circle class="nA" cx="128" cy="471" r="10"/><text class="t11" x="130" y="477">Glycerate</text></g>
<g id="c-galactinol"><circle class="nA" cx="28" cy="477" r="4"/><text class="t11" x="29" y="482">Galactinol</text></g>
<g id="c-phosph"><circle class="nA" cx="213" cy="490" r="8"/><text class="t11" x="213" y="490">Phosphoric</text><text class="t11" x="213" y="504">acid</text></g>
<g id="c-glycolate"><circle class="nA" cx="64" cy="502" r="3"/><text class="t11" x="64" y="507">Glycolate</text></g>
<g id="c-citrate"><circle class="nA" cx="113" cy="502" r="10"/><text class="t11" x="114" y="507">Citrate</text></g>
<g id="c-malate"><circle class="nA" cx="160" cy="497" r="10"/><text class="t11" x="160" y="502">Malate</text></g>
<g id="c-s3p"><circle class="nA" cx="258" cy="515" r="7"/><text class="t11" x="258" y="519">Shikimate-3-phosphate</text></g>
<g id="c-dehydro"><circle class="nA" cx="95" cy="527" r="3"/><text class="t11" x="94" y="532">Dehydroascorbate</text></g>
<g id="c-serine"><circle class="nA" cx="168" cy="524" r="9"/><text class="t11" x="169" y="529">Serine</text></g>
<g id="c-isoleucine"><circle class="nA" cx="210" cy="539" r="14"/><text class="t11" x="210" y="544">Isoleucine</text></g>
<g id="c-valine"><circle class="nA" cx="263" cy="542" r="4"/><text class="t11" x="264" y="547">Valine</text></g>
<g id="c-succinate"><circle class="nA" cx="157" cy="553" r="3"/><text class="t11" x="157" y="558">Succinate</text></g>
<g id="c-leucine"><circle class="nA" cx="199" cy="565" r="6"/><text class="t11" x="199" y="570">Leucine</text></g>
<g id="c-benzoic"><circle class="nA" cx="259" cy="565" r="3"/><text class="t11" x="259" y="570">Benzoic acid</text></g>
</g>
<g id="nodes-D">
<g id="d-serine"><circle class="nB" cx="420" cy="320" r="6"/><text class="t11" x="420" y="325">Serine</text></g>
<g id="d-benzoic"><circle class="nB" cx="478" cy="326" r="4"/><text class="t11" x="478" y="331">Benzoic acid</text></g>
<g id="d-malate"><circle class="nB" cx="386" cy="339" r="6"/><text class="t11" x="386" y="344">Malate</text></g>
<g id="d-tryptophan"><circle class="nB" cx="433" cy="344" r="13"/><text class="t11" x="432" y="349">Tryptophan</text></g>
<g id="d-glycolate"><circle class="nB" cx="501" cy="344" r="6"/><text class="t11" x="501" y="350">Glycolate</text></g>
<g id="d-galactose"><circle class="nB" cx="559" cy="346" r="4"/><text class="t11" x="558" y="351">Galactose</text></g>
<g id="d-myo"><circle class="nB" cx="609" cy="359" r="6"/><text class="t11" x="609" y="364">Myo-Inositol</text></g>
<g id="d-phenyl"><circle class="nB" cx="400" cy="364" r="9"/><text class="t11" x="399" y="369">Phenylalanine</text></g>
<g id="d-phosph"><circle class="nB" cx="474" cy="369" r="10"/><text class="t11" x="472" y="367">Phosphoric</text><text class="t11" x="477" y="379">acid</text></g>
<g id="d-threonic"><circle class="nB" cx="540" cy="373" r="9"/><text class="t11" x="538" y="372">Threonic</text><text class="t11" x="537" y="385">acid</text></g>
<g id="d-putrescine"><circle class="nB" cx="344" cy="369" r="1.5"/><text class="t11" x="344" y="373">Putrescine</text></g>
<g id="d-citrate"><circle class="nB" cx="359" cy="389" r="5"/><text class="t11" x="359" y="396">Citrate</text></g>
<g id="d-16ag"><circle class="nB" cx="428" cy="388" r="8"/><text class="t11" x="426" y="391">1-6-anhydro-glucose</text></g>
<g id="d-sucrose"><circle class="nB" cx="582" cy="387" r="10"/><text class="t11" x="581" y="391">Sucrose</text></g>
<g id="d-ribulose"><circle class="nB" cx="491" cy="395" r="7"/><text class="t11" x="491" y="401">Ribulose</text></g>
<g id="d-galactinol"><circle class="nB" cx="626" cy="400" r="4"/><text class="t11" x="627" y="405">Galactinol</text></g>
<g id="d-erythritol"><circle class="nB" cx="439" cy="405" r="13"/><text class="t11" x="440" y="411">Erythritol</text></g>
<g id="d-raffinose"><circle class="nB" cx="381" cy="407" r="8"/><text class="t11" x="381" y="413">Raffinose</text></g>
<g id="d-t2h"><circle class="nB" cx="546" cy="417" r="16"/><text class="t11" x="543" y="417">trans-2-hydroxy-cinnamic</text><text class="t11" x="545" y="430">acid</text></g>
<g id="d-xylose"><circle class="nB" cx="627" cy="424" r="5"/><text class="t11" x="627" y="429">Xylose</text></g>
<g id="d-s3p"><circle class="nB" cx="392" cy="425" r="5"/><text class="t11" x="388" y="430">Shikimate-3-phosphate</text></g>
<g id="d-36ag"><circle class="nB" cx="479" cy="437" r="20"/><text class="t11" x="476" y="441">3-6-anhydro-galactose</text></g>
<g id="d-quinic"><circle class="nB" cx="575" cy="440" r="9"/><text class="t11" x="575" y="446">Quinic acid</text></g>
<g id="d-valine"><circle class="nB" cx="382" cy="449" r="9"/><text class="t11" x="379" y="453">Valine</text></g>
<g id="d-catechin"><circle class="nB" cx="625" cy="450" r="9"/><text class="t11" x="625" y="456">Catechin</text></g>
<g id="d-leucine"><circle class="nB" cx="432" cy="454" r="9"/><text class="t11" x="432" y="458">Leucine</text></g>
<g id="d-glycerol"><circle class="nB" cx="522" cy="457" r="20"/><text class="t11" x="521" y="461">Glycerol</text></g>
<g id="d-dehydro"><circle class="nB" cx="584" cy="467" r="15"/><text class="t11" x="581" y="473">Dehydroascorbate</text></g>
<g id="d-succinate"><circle class="nB" cx="450" cy="471" r="9"/><text class="t11" x="451" y="476">Succinate</text></g>
<g id="d-isoleucine"><circle class="nB" cx="399" cy="475" r="10"/><text class="t11" x="401" y="482">Isoleucine</text></g>
<g id="d-arabinose"><circle class="nB" cx="660" cy="474" r="6"/><text class="t11" x="660" y="480">Arabinose</text></g>
<g id="d-glucose"><circle class="nB" cx="479" cy="489" r="13"/><text class="t11" x="479" y="493">Glucose</text></g>
<g id="d-glycerate"><circle class="nB" cx="539" cy="484" r="6"/><text class="t11" x="539" y="489">Glycerate</text></g>
<g id="d-maltose"><circle class="nB" cx="428" cy="494" r="6"/><text class="t11" x="428" y="499">Maltose</text></g>
<g id="d-shikimate"><circle class="nB" cx="612" cy="493" r="6"/><text class="t11" x="612" y="498">Shikimate</text></g>
<g id="d-mannose"><circle class="nB" cx="517" cy="502" r="9"/><text class="t11" x="517" y="507">Mannose</text></g>
<g id="d-aspartate"><circle class="nB" cx="577" cy="505" r="7"/><text class="t11" x="577" y="510">Aspartate</text></g>
<g id="d-homocystine"><circle class="nB" cx="396" cy="512" r="9"/><text class="t11" x="396" y="517">Homocystine</text></g>
<g id="d-glutamine"><circle class="nB" cx="456" cy="510" r="6"/><text class="t11" x="456" y="515">Glutamine</text></g>
<g id="d-g6p"><circle class="nB" cx="495" cy="527" r="9"/><text class="t11" x="494" y="532">Glucose-6-phosphate</text></g>
<g id="d-fructose"><circle class="nB" cx="581" cy="522" r="4"/><text class="t11" x="582" y="527">Fructose</text></g>
</g>
</svg>
